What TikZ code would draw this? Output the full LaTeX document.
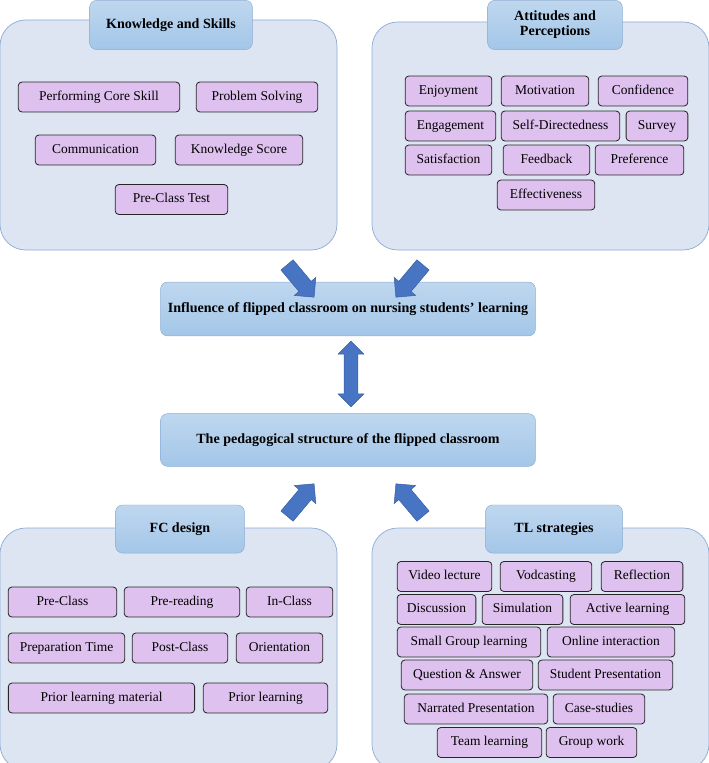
\documentclass[tikz,border=0pt]{standalone}
\usepackage{fontspec}
\setmainfont{Liberation Serif}
\usetikzlibrary{shapes.arrows}
\definecolor{panelfill}{RGB}{221,229,243}
\definecolor{paneldraw}{RGB}{140,172,212}
\definecolor{headfill}{RGB}{163,198,232}
\definecolor{itemfill}{RGB}{222,193,238}
\definecolor{arrowblue}{RGB}{72,116,196}
\tikzset{
  panel/.style={draw=paneldraw,fill=panelfill,rounded corners=22pt,line width=.6pt},
  head/.style={draw=paneldraw,top color=headfill!70,bottom color=headfill,rounded corners=6pt,font=\bfseries\fontsize{12}{13}\selectfont,align=center,inner sep=0pt},
  item/.style={draw=black!85,fill=itemfill,rounded corners=3pt,line width=.7pt,font=\fontsize{11.5}{12}\selectfont,inner sep=0pt,text height=8pt,text depth=2.5pt,minimum height=25.5pt},
  blk/.style={fill=arrowblue,draw=arrowblue!80!black,single arrow,single arrow head extend=4pt,minimum width=24pt,minimum height=36pt,inner sep=5pt},
}
\newcommand{\itm}[6]{\node[item,minimum width={(#4-#3)*0.85pt}] (#1) at ({(#3+#4)/2},{(#5+#6)/2}) {#2};}
\begin{document}
\begin{tikzpicture}[x=0.03cm,y=-0.03cm]
\useasboundingbox (0,0) rectangle (709,763);
% panels
\draw[panel] (0,20) rectangle (337,250);
\draw[panel] (372,22) rectangle (709,250);
\draw[panel] (0,528) rectangle (337,770);
\draw[panel] (372,528) rectangle (709,770);
\node[head,minimum width=139pt,minimum height=42pt] (ks) at (171,25) {Knowledge and Skills};
\node[head,minimum width=115pt,minimum height=42pt] (ap) at (555,25) {Attitudes and\\Perceptions};
\node[head,minimum width=110pt,minimum height=41pt] (fc) at (180,529) {FC design};
\node[head,minimum width=117pt,minimum height=41pt] (tl) at (554,529) {TL strategies};
% centre boxes
\node[head,minimum width=320pt,minimum height=46pt] (infl) at (348,309) {Influence of flipped classroom on nursing students' learning};
\node[head,minimum width=320pt,minimum height=45pt] (ped) at (348,440) {The pedagogical structure of the flipped classroom};
% arrows
\node[blk,rotate=-50] (a1) at (298,278) {};
\node[blk,rotate=-130] (a2) at (412,278) {};
\node[blk,rotate=50] (a3) at (298,503) {};
\node[blk,rotate=130] (a4) at (412,503) {};
\node[fill=arrowblue,draw=arrowblue!80!black,double arrow,double arrow head extend=4pt,minimum width=22pt,minimum height=56pt,inner sep=4.5pt,rotate=90] (a5) at (351,374) {};
% knowledge and skills
\itm{pcs}{Performing Core Skill}{18}{180}{82}{112}
\itm{ps}{Problem Solving}{196}{318}{82}{112}
\itm{com}{Communication}{35}{156}{135}{165}
\itm{kns}{Knowledge Score}{175}{303}{135}{165}
\itm{pct}{Pre-Class Test}{115}{228}{185}{214}
% attitudes and perceptions
\itm{enj}{Enjoyment}{405}{492}{76}{106}
\itm{mot}{Motivation}{501}{589}{76}{106}
\itm{con}{Confidence}{598}{688}{76}{106}
\itm{eng}{Engagement}{405}{496}{111}{141}
\itm{sd}{Self-Directedness}{501}{620}{111}{141}
\itm{sur}{Survey}{626}{688}{111}{141}
\itm{sat}{Satisfaction}{405}{492}{145}{175}
\itm{fb}{Feedback}{503}{590}{145}{175}
\itm{pre}{Preference}{595}{684}{145}{175}
\itm{eff}{Effectiveness}{497}{595}{180}{210}
% FC design
\itm{pcl}{Pre-Class}{8}{117}{587}{617}
\itm{prd}{Pre-reading}{124}{240}{587}{617}
\itm{icl}{In-Class}{246}{333}{587}{617}
\itm{pt}{Preparation Time}{8}{125}{633}{663}
\itm{pocl}{Post-Class}{132}{228}{633}{663}
\itm{ori}{Orientation}{236}{323}{633}{663}
\itm{plm}{Prior learning material}{8}{195}{683}{713}
\itm{pl}{Prior learning}{203}{328}{683}{713}
% TL strategies
\itm{vl}{Video lecture}{397}{492}{562}{591}
\itm{vod}{Vodcasting}{500}{592}{562}{591}
\itm{ref}{Reflection}{601}{683}{562}{591}
\itm{dis}{Discussion}{397}{476}{595}{624}
\itm{sim}{Simulation}{482}{563}{595}{624}
\itm{al}{Active learning}{570}{685}{595}{624}
\itm{sgl}{Small Group learning}{397}{541}{627}{657}
\itm{oi}{Online interaction}{547}{675}{627}{657}
\itm{qa}{Question \& Answer}{401}{533}{660}{690}
\itm{sp}{Student Presentation}{538}{673}{660}{690}
\itm{np}{Narrated Presentation}{404}{548}{694}{724}
\itm{cs}{Case-studies}{553}{645}{694}{724}
\itm{tlr}{Team learning}{437}{542}{728}{757}
\itm{gw}{Group work}{546}{637}{728}{757}
\end{tikzpicture}
\end{document}
